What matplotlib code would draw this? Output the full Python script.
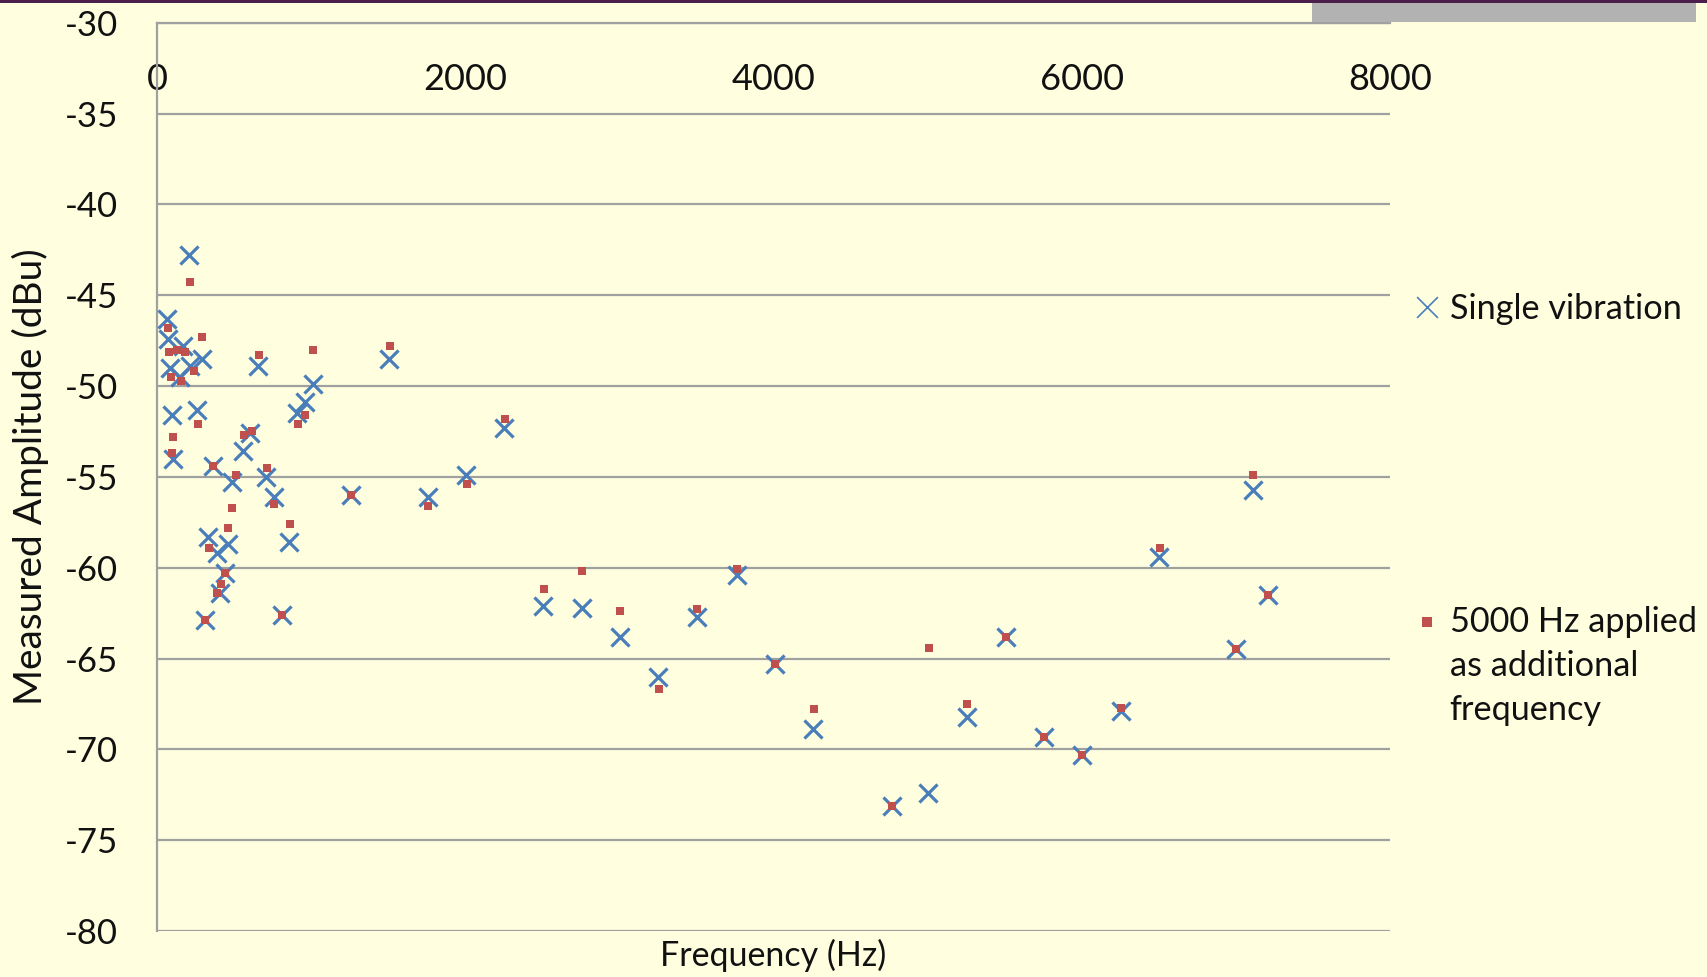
import matplotlib
matplotlib.use("Agg")
import matplotlib.pyplot as plt
from matplotlib.patches import Rectangle

plt.rcParams['font.family'] = ['Lato', 'DejaVu Sans']
plt.rcParams['axes.unicode_minus'] = False

# Single vibration (blue X)
single_freq = [63, 73, 171, 290, 84, 150, 214, 95, 262, 210, 657, 1010, 960, 906,
               603, 560, 102, 365, 484, 707, 759, 858, 333, 463, 387, 441, 409, 311,
               809, 1508, 1259, 1756, 2005, 2253, 2506, 2755, 3004, 3253, 3502, 3761,
               4010, 4258, 4767, 5005, 5253, 5506, 5755, 6003, 6252, 6503, 7000, 7109,
               7210]
single_amp = [-46.3, -47.4, -47.8, -48.5, -49.0, -49.5, -48.9, -51.6, -51.3, -42.8,
              -48.9, -49.9, -50.9, -51.5, -52.6, -53.6, -54.0, -54.4, -55.3, -55.0,
              -56.1, -58.6, -58.3, -58.7, -59.2, -60.3, -61.4, -62.9, -62.6, -48.5,
              -56.0, -56.1, -54.9, -52.3, -62.1, -62.2, -63.8, -66.0, -62.7, -60.4,
              -65.3, -68.9, -73.1, -72.4, -68.2, -63.8, -69.3, -70.3, -67.9, -59.4,
              -64.5, -55.7, -61.5]

# 5000 Hz applied as additional frequency (red squares)
added_freq = [73, 290, 80, 132, 182, 89, 156, 240, 214, 264, 106, 97, 365, 513, 711,
              761, 489, 463, 863, 340, 441, 415, 387, 311, 809, 566, 614, 664, 1014,
              960, 913, 1512, 1259, 1760, 2010, 2258, 2509, 2757, 3006, 3257, 3506,
              3763, 4010, 4263, 4767, 5009, 5257, 5506, 5755, 6003, 6256, 6507, 7000,
              7113, 7210]
added_amp = [-46.8, -47.3, -48.1, -48.0, -48.1, -49.5, -49.7, -49.2, -44.3, -52.1,
             -52.8, -53.7, -54.4, -54.9, -54.5, -56.5, -56.7, -57.8, -57.6, -58.9,
             -60.3, -60.9, -61.4, -62.9, -62.6, -52.7, -52.5, -48.3, -48.0, -51.6,
             -52.1, -47.8, -56.0, -56.6, -55.4, -51.8, -61.2, -60.2, -62.4, -66.7,
             -62.3, -60.1, -65.3, -67.8, -73.1, -64.4, -67.5, -63.8, -69.3, -70.3,
             -67.7, -58.9, -64.5, -54.9, -61.5]

x_ticks = [0, 2000, 4000, 6000, 8000]
y_ticks = [-30, -35, -40, -45, -50, -55, -60, -65, -70, -75, -80]

bg = '#FFFFE0'
grid_c = '#A0A0A0'
blue = '#4A7EBB'
red = '#C0504D'

W, H = 1707, 977
fig = plt.figure(figsize=(W / 100, H / 100), dpi=100, facecolor=bg)
ax = fig.add_axes([157 / W, 1 - 931 / H, (1390 - 157) / W, (931 - 22.7) / H])
ax.set_facecolor(bg)

# decorations at top of the slide
fig.add_artist(Rectangle((0, 1 - 2.5 / H), 1, 2.5 / H, transform=fig.transFigure,
                         color='#4B1E4B', lw=0))
fig.add_artist(Rectangle((1312 / W, 1 - 22 / H), (1696 - 1312) / W, 19.5 / H,
                         transform=fig.transFigure, color='#B2B2B2', lw=0))

ax.scatter(single_freq, single_amp, marker='x', s=13 ** 2, color=blue,
           linewidths=2.3, label='Single vibration', zorder=3)
ax.scatter(added_freq, added_amp, marker='s', s=6.2 ** 2, color=red,
           linewidths=0, label='5000 Hz applied\nas additional\nfrequency', zorder=4)

ax.set_xlim(0, 8000)
ax.set_ylim(-80, -30)
ax.set_yticks(y_ticks)
ax.set_xticks(x_ticks)
ax.yaxis.grid(True, color=grid_c, lw=1.6)
ax.set_axisbelow(True)

for s in ['right', 'bottom']:
    ax.spines[s].set_visible(False)
for s in ['left', 'top']:
    ax.spines[s].set_color(grid_c)
    ax.spines[s].set_linewidth(1.6)

ax.tick_params(axis='y', length=0, pad=28, labelsize=25, labelcolor='#111111')
ax.xaxis.tick_top()
ax.tick_params(axis='x', length=0, pad=-53, labelsize=26, labelcolor='#111111')

ax.set_xlabel('Frequency (Hz)', fontsize=24.5, color='#111111', labelpad=6)
ax.set_ylabel('Measured Amplitude (dBu)', fontsize=28, color='#111111')
ax.yaxis.set_label_coords((49 - 157) / 1233, 0.5)

fs = 24.7
leg = ax.legend(loc='upper left', bbox_to_anchor=(1393 / W, 1 - 276 / H),
                bbox_transform=fig.transFigure, frameon=False, fontsize=fs,
                labelspacing=8.2, handletextpad=0.15, handlelength=1.0,
                borderpad=0, scatteryoffsets=[0.5])
for t in leg.get_texts():
    t.set_color('#111111')
    t.set_linespacing(1.45)
hx, hs = leg.legend_handles
hx.set_linewidths([1.2])
hx.set_sizes([15 ** 2])
hs.set_sizes([7 ** 2])
# align the square with the first line of its three-line label
off = hs.get_offsets()
off[:, 1] += 1.31 * fs
hs.set_offsets(off)

fig.savefig('out.png', dpi=100, facecolor=bg)
